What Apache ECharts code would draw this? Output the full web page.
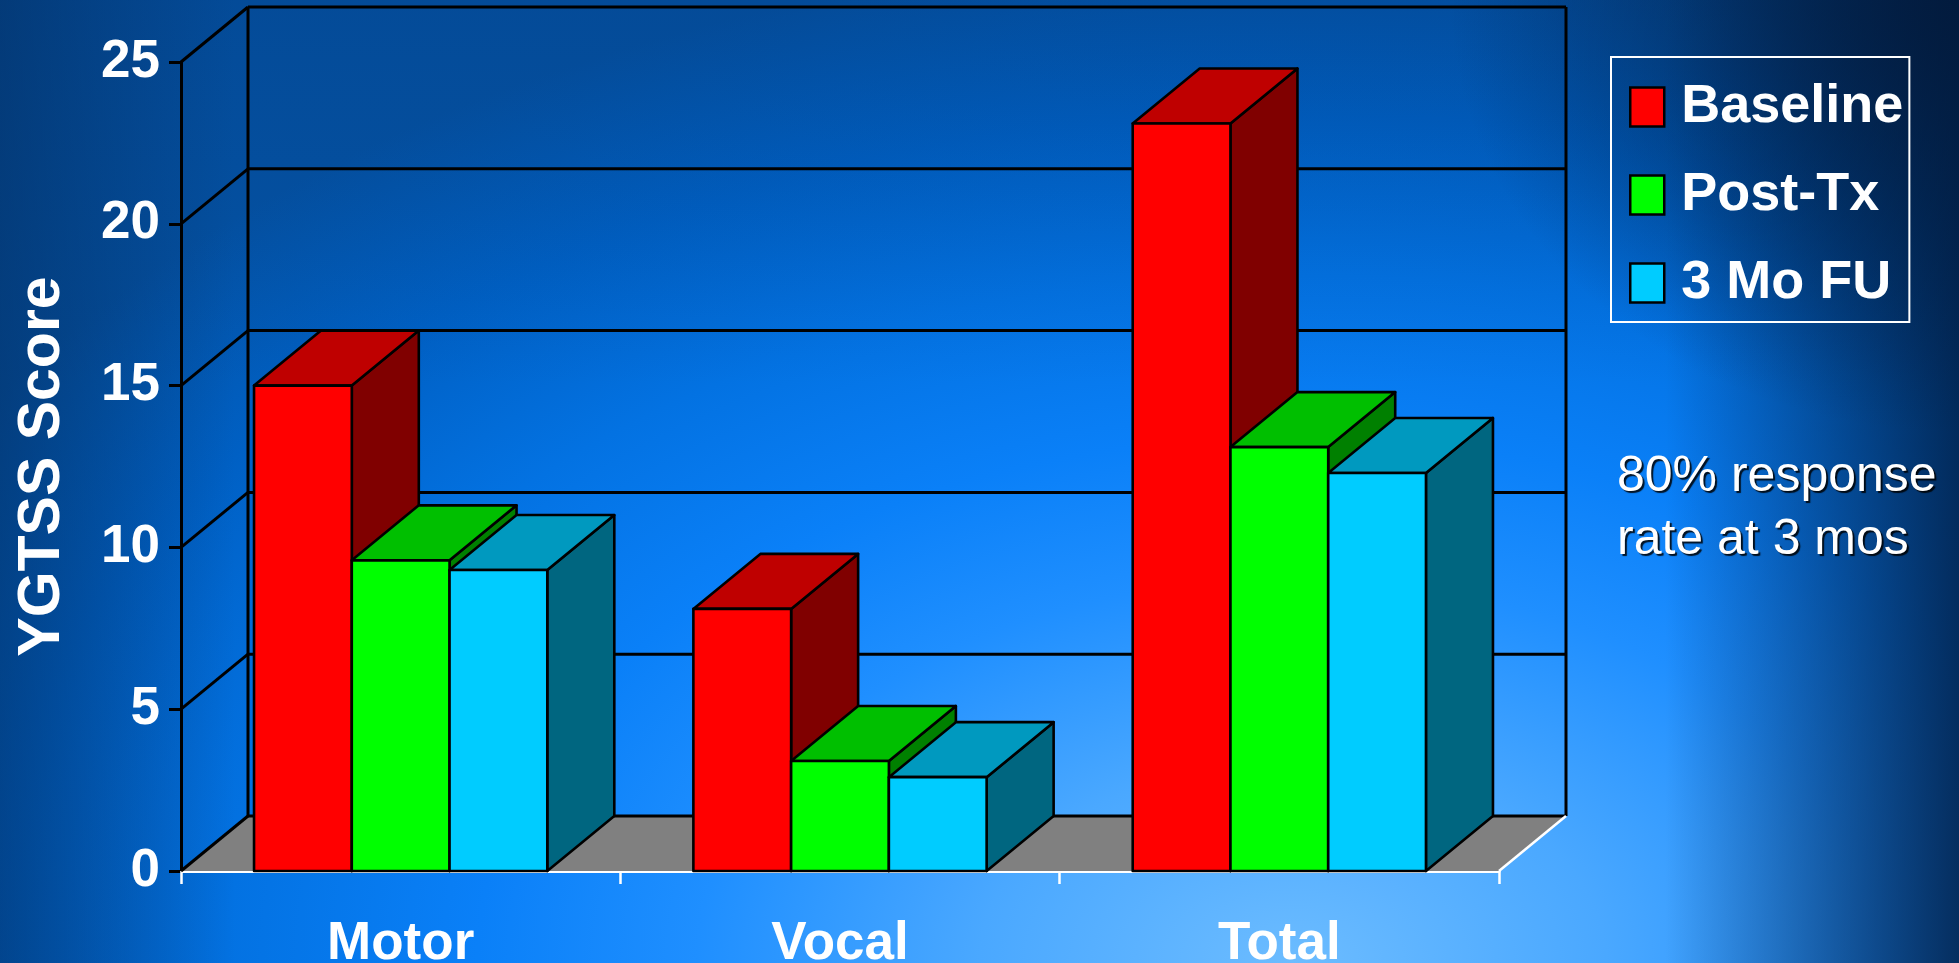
<!DOCTYPE html>
<html>
<head>
<meta charset="utf-8">
<title>YGTSS Score</title>
<script src="https://cdn.jsdelivr.net/npm/echarts@6/dist/echarts.min.js"></script>
<style>
  html, body { margin: 0; padding: 0; width: 1959px; height: 963px; overflow: hidden; }
  body {
    background:
      radial-gradient(ellipse 26% 45% at 100% 0%, rgba(2, 25, 58, 0.85) 0%, rgba(2, 25, 58, 0) 100%),
      linear-gradient(to left, rgba(2, 30, 68, 0.85) 0%, rgba(2, 30, 68, 0) 15%),
      linear-gradient(to right, rgba(3, 45, 95, 0.55) 0%, rgba(3, 45, 95, 0) 12%),
      linear-gradient(to bottom, rgba(3, 50, 110, 0.22) 0%, rgba(3, 50, 110, 0) 40%),
      radial-gradient(ellipse 80% 105% at 66% 100%, #6cbcff 0%, #4aa8ff 20%, #1f8fff 38%, #0a80f8 52%, #0372e2 68%, #0060c4 84%, #0452a4 100%);
  }
  #chart { width: 1959px; height: 963px; }
</style>
</head>
<body>
<div id="chart"></div>
<script>
// Yale Global Tic Severity Scale scores by subscale and time point
const categories = ['Motor', 'Vocal', 'Total'];
const seriesNames = ['Baseline', 'Post-Tx', '3 Mo FU'];
const baseline = [15.0, 8.1, 23.1];
const postTx = [9.6, 3.4, 13.1];
const moFU = [9.3, 2.9, 12.3];
const yTicks = [0, 5, 10, 15, 20, 25];
const note = ['80% response', 'rate at 3 mos'];

// Face shading for each series: front, top, side
const FACES = [
  { front: '#ff0000', top: '#bf0000', side: '#800000' },
  { front: '#00ff00', top: '#00bf00', side: '#008000' },
  { front: '#00ccff', top: '#0099bf', side: '#006680' }
];

// Depth of the pseudo-3D box (pixels to the right and upward)
const DX = 67;
const DY = 55;
const BAR_FRACTION = 0.2225; // each bar's share of a category slot
const FONT = '"Liberation Sans", Arial, Helvetica, sans-serif';

const chart = echarts.init(document.getElementById('chart'), null, { renderer: 'canvas' });

const lineStyle = { stroke: '#000', lineWidth: 3 };

// Floor, side wall and back wall of the box
function renderFrame(params, api) {
  const cs = params.coordSys;
  const L = cs.x, R = cs.x + cs.width;
  const y0 = api.coord([0, yTicks[0]])[1];
  const yTop = api.coord([0, yTicks[yTicks.length - 1]])[1];
  const children = [];
  children.push({
    type: 'polygon', z2: 0,
    shape: { points: [[L, y0], [R, y0], [R + DX, y0 - DY], [L + DX, y0 - DY]] },
    style: { fill: '#808080' }
  });
  yTicks.forEach(function (v) {
    const y = api.coord([0, v])[1];
    children.push({ type: 'line', z2: 1, shape: { x1: L + DX, y1: y - DY, x2: R + DX, y2: y - DY }, style: lineStyle });
    children.push({ type: 'line', z2: 1, shape: { x1: L, y1: y, x2: L + DX, y2: y - DY }, style: lineStyle });
  });
  children.push({ type: 'line', z2: 1, shape: { x1: L + DX, y1: y0 - DY, x2: L + DX, y2: yTop - DY }, style: lineStyle });
  children.push({ type: 'line', z2: 1, shape: { x1: R + DX, y1: y0 - DY, x2: R + DX, y2: yTop - DY }, style: lineStyle });
  children.push({ type: 'line', z2: 2, shape: { x1: R, y1: y0, x2: R + DX, y2: y0 - DY }, style: { stroke: '#ffffff', lineWidth: 2.5 } });
  return { type: 'group', children: children };
}

// One 3D bar: side, top, then front face
function barRenderer(sIdx) {
  const f = FACES[sIdx];
  return function (params, api) {
    const ci = api.value(0);
    const v = api.value(1);
    const base = api.coord([ci, 0]);
    const top = api.coord([ci, v]);
    const bw = api.size([1, 0])[0] * BAR_FRACTION;
    const x0 = base[0] - 1.5 * bw + sIdx * bw;
    const x1 = x0 + bw;
    const y0 = base[1], y1 = top[1];
    const st = { stroke: '#000', lineWidth: 2.6, lineJoin: 'round' };
    const z = 10 + sIdx * 3;
    return {
      type: 'group',
      children: [
        { type: 'polygon', z2: z, shape: { points: [[x1, y1], [x1 + DX, y1 - DY], [x1 + DX, y0 - DY], [x1, y0]] }, style: Object.assign({ fill: f.side }, st) },
        { type: 'polygon', z2: z + 1, shape: { points: [[x0, y1], [x1, y1], [x1 + DX, y1 - DY], [x0 + DX, y1 - DY]] }, style: Object.assign({ fill: f.top }, st) },
        { type: 'rect', z2: z + 2, shape: { x: x0, y: y1, width: bw, height: y0 - y1 }, style: Object.assign({ fill: f.front }, st) }
      ]
    };
  };
}

const seriesValues = [baseline, postTx, moFU];

const barSeries = seriesValues.map(function (vals, s) {
  return {
    type: 'custom',
    name: seriesNames[s],
    coordinateSystem: 'cartesian2d',
    renderItem: barRenderer(s),
    itemStyle: { color: FACES[s].front },
    encode: { x: 0, y: 1 },
    z: 3,
    data: vals.map(function (v, i) { return [i, v]; })
  };
});

const option = {
  backgroundColor: 'transparent',
  animation: false,
  textStyle: { fontFamily: FONT },
  grid: { left: 181, top: 62, width: 1318, height: 809, containLabel: false, outerBoundsMode: 'none' },
  legend: {
    orient: 'vertical',
    left: 1611,
    top: 57,
    padding: [23, 6, 12, 18],
    borderColor: '#ffffff',
    borderWidth: 2,
    itemWidth: 34,
    itemHeight: 39,
    itemGap: 34,
    selectedMode: false,
    textStyle: { color: '#ffffff', fontSize: 54, fontWeight: 'bold', fontFamily: FONT, lineHeight: 54, padding: [0, 0, 0, 12] },
    data: seriesNames.map(function (n, s) {
      return { name: n, icon: 'rect', itemStyle: { color: FACES[s].front, borderColor: '#000', borderWidth: 2.5 } };
    })
  },
  xAxis: {
    type: 'category',
    data: categories,
    axisLine: { show: true, lineStyle: { color: '#ffffff', width: 3 } },
    axisTick: { show: true, length: 13, lineStyle: { color: '#ffffff', width: 2.5 } },
    axisLabel: { color: '#ffffff', fontSize: 53, fontWeight: 'bold', fontFamily: FONT, margin: 47 },
    splitLine: { show: false }
  },
  yAxis: {
    type: 'value',
    min: 0,
    max: 25,
    interval: 5,
    name: 'YGTSS Score',
    nameLocation: 'middle',
    nameRotate: 90,
    nameGap: 109,
    nameTextStyle: { color: '#ffffff', fontSize: 59, fontWeight: 'bold', fontFamily: FONT },
    axisLine: { show: true, lineStyle: { color: '#000', width: 3 } },
    axisTick: { show: true, length: 12, lineStyle: { color: '#000', width: 3 } },
    axisLabel: { color: '#ffffff', fontSize: 53, fontWeight: 'bold', fontFamily: FONT, margin: 21 },
    splitLine: { show: false }
  },
  graphic: [{
    type: 'text',
    x: 1617,
    y: 446,
    silent: true,
    style: {
      text: note.join('\n'),
      font: '50px ' + FONT,
      fill: '#ffffff',
      lineHeight: 63,
      verticalAlign: 'top',
      textShadowColor: 'rgba(0,0,0,0.85)',
      textShadowOffsetX: 2,
      textShadowOffsetY: 2,
      textShadowBlur: 1
    }
  }],
  series: [{
    type: 'custom',
    name: 'frame',
    coordinateSystem: 'cartesian2d',
    renderItem: renderFrame,
    silent: true,
    z: 1,
    encode: { x: 0, y: 1 },
    data: [[0, 0]]
  }].concat(barSeries)
};

chart.setOption(option);
</script>
</body>
</html>
